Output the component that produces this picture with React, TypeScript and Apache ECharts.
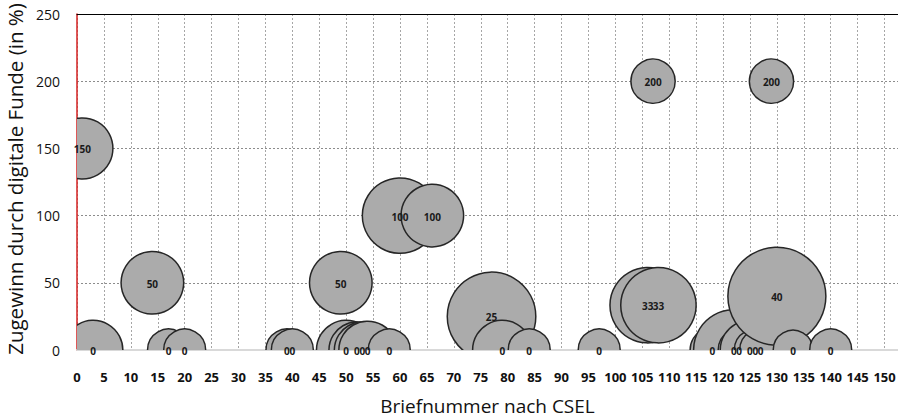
import React, { useEffect, useRef } from 'react';
import * as echarts from 'echarts';

// Briefnummer (x), Zugewinn in % (y), bubble size
const letterNumbers = [1, 3, 14, 17, 20, 39, 40, 49, 50, 52, 53, 54, 58, 60, 66, 77, 79, 84, 97, 106, 107, 108, 118, 122, 123, 125, 126, 127, 129, 130, 133, 140];
const gains = [150, 0, 50, 0, 0, 0, 0, 50, 0, 0, 0, 0, 0, 100, 100, 25, 0, 0, 0, 33.33, 200, 33.33, 0, 0, 0, 0, 0, 0, 200, 40, 0, 0];
const bubbleSizes = [19, 18, 20, 9, 9, 9, 9, 20, 18, 16, 16, 17, 9, 29, 20, 40, 18, 9, 9, 29, 10, 29, 10, 33, 9, 18, 9, 9, 10, 49, 8, 9];

const xTitle = 'Briefnummer nach CSEL';
const yTitle = 'Zugewinn durch digitale Funde (in %)';

const FONT = '"Open Sans", "Noto Sans", sans-serif';

export default function App() {
  const ref = useRef<HTMLDivElement>(null);
  useEffect(() => {
    if (!ref.current) return;
    const chart = echarts.init(ref.current, undefined, { renderer: 'svg' });
    const data = letterNumbers.map((x, i) => [x, gains[i], bubbleSizes[i]]);
    const radius = (s: number) => 7 * Math.sqrt(s);
    chart.setOption({
      animation: false,
      backgroundColor: '#ffffff',
      grid: { left: 77, right: 0, top: 14, bottom: 67, outerBoundsMode: 'none', containLabel: false },
      xAxis: [
        {
          type: 'value',
          min: 0,
          max: 152.5,
          interval: 5,
          name: xTitle,
          nameLocation: 'middle',
          nameGap: 46,
          nameTextStyle: { fontFamily: FONT, fontSize: 19, lineHeight: 19, color: '#111' },
          axisLine: { show: true, onZero: false, lineStyle: { color: '#d9d9d9', width: 2 } },
          axisTick: { show: false },
          axisLabel: {
            showMaxLabel: false,
            margin: 20,
            fontFamily: FONT,
            fontSize: 13,
            fontWeight: 'bold',
            color: '#111',
            formatter: (v: number) => (v % 5 === 0 ? String(v) : ''),
          },
          splitLine: { show: true, lineStyle: { color: '#a6a6a6', type: [2, 2], width: 1 } },
        },
        {
          type: 'value',
          position: 'top',
          min: 0,
          max: 152.5,
          interval: 5,
          axisLine: { show: true, onZero: false, lineStyle: { color: '#000', width: 1 } },
          axisTick: { show: false },
          axisLabel: { show: false },
          splitLine: { show: false },
        },
      ],
      yAxis: {
        type: 'value',
        min: 0,
        max: 250,
        interval: 50,
        name: yTitle,
        nameLocation: 'middle',
        nameGap: 47,
        nameTextStyle: { fontFamily: FONT, fontSize: 20.5, color: '#111', padding: [0, 0, 0, 6] },
        axisLine: { show: true, onZero: false, lineStyle: { color: '#d42020', width: 1.5 } },
        axisTick: { show: false },
        axisLabel: { margin: 17, fontFamily: FONT, fontSize: 14, color: '#111' },
        splitLine: { show: true, lineStyle: { color: '#8c8c8c', type: [2, 2], width: 1 } },
      },
      series: [
        {
          type: 'custom',
          clip: true,
          z: 2,
          data,
          encode: { x: 0, y: 1 },
          renderItem: (params: any, api: any) => {
            const c = api.coord([api.value(0), api.value(1)]);
            return {
              type: 'circle',
              shape: { cx: c[0], cy: c[1], r: radius(api.value(2)) },
              style: { fill: '#ababab', stroke: '#262626', lineWidth: 1.5 },
            };
          },
        },
        {
          type: 'custom',
          clip: false,
          z: 3,
          data,
          encode: { x: 0, y: 1 },
          renderItem: (params: any, api: any) => {
            const c = api.coord([api.value(0), api.value(1)]);
            return {
              type: 'text',
              x: c[0],
              y: c[1] + 1,
              style: {
                text: String(Math.round(api.value(1))),
                fill: '#1a1a1a',
                fontFamily: FONT,
                fontSize: 10,
                fontWeight: 'bold',
                align: 'center',
                verticalAlign: 'middle',
              },
            };
          },
        },
      ],
    });
    return () => chart.dispose();
  }, []);
  return (
    <div
      ref={ref}
      style={{ position: 'absolute', left: 0, top: 0, width: 898, height: 417, background: '#fff' }}
    />
  );
}
